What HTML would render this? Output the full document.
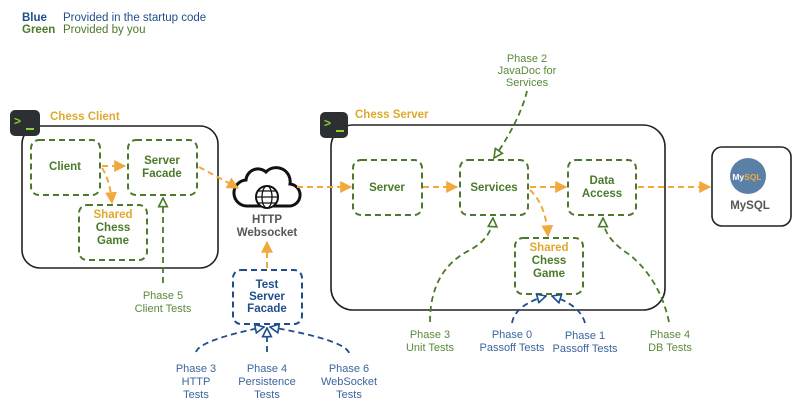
<!DOCTYPE html>
<html><head><meta charset="utf-8"><style>body{margin:0;background:#fff}svg{display:block}text{font-family:"Liberation Sans",sans-serif}</style></head><body>
<svg width="800" height="411" viewBox="0 0 800 411" xmlns="http://www.w3.org/2000/svg">
<defs>
<marker id="ao" viewBox="0 0 10 10" refX="9" refY="5" markerWidth="6" markerHeight="6" orient="auto"><path d="M0,0L10,5L0,10z" fill="#f2a93b"/></marker>
<marker id="ag" viewBox="0 0 10 10" refX="9" refY="5" markerWidth="6" markerHeight="6" orient="auto"><path d="M1,1L9,5L1,9z" fill="#fff" stroke="#4a7a2a" stroke-width="1.5"/></marker>
<marker id="ab" viewBox="0 0 10 10" refX="9" refY="5" markerWidth="6" markerHeight="6" orient="auto"><path d="M1,1L9,5L1,9z" fill="#fff" stroke="#1f4e8c" stroke-width="1.5"/></marker>
</defs>
<g font-size="11.5">
<text x="22" y="21" font-weight="bold" fill="#1f4e8c">Blue</text><text x="63" y="21" fill="#1f4e8c">Provided in the startup code</text>
<text x="22" y="33" font-weight="bold" fill="#4a7a2a">Green</text><text x="63" y="33" fill="#4a7a2a">Provided by you</text>
</g>
<rect x="22" y="126" width="196" height="142" rx="18" fill="none" stroke="#222" stroke-width="1.6"/>
<rect x="331" y="125" width="334" height="185" rx="22" fill="none" stroke="#222" stroke-width="1.6"/>
<rect x="712" y="147" width="79" height="79" rx="10" fill="none" stroke="#222" stroke-width="1.6"/>
<g><rect x="10" y="110" width="30" height="26" rx="5" fill="#2d3033"/><text x="14" y="125" font-size="12" font-weight="bold" fill="#8fd12e">&gt;</text><rect x="26" y="128" width="8" height="2" fill="#8fd12e"/></g>
<g><rect x="320" y="112" width="28" height="26" rx="5" fill="#2d3033"/><text x="324" y="127" font-size="12" font-weight="bold" fill="#8fd12e">&gt;</text><rect x="336" y="130" width="8" height="2" fill="#8fd12e"/></g>
<text x="50" y="120" font-size="11.5" font-weight="bold" fill="#e0a82e">Chess Client</text>
<text x="355" y="118" font-size="11.5" font-weight="bold" fill="#e0a82e">Chess Server</text>
<g fill="none" stroke="#4a7a2a" stroke-width="2" stroke-dasharray="6,4">
<rect x="31" y="140" width="69" height="55" rx="8"/>
<rect x="128" y="140" width="69" height="55" rx="8"/>
<rect x="79" y="205" width="68" height="55" rx="8"/>
<rect x="353" y="160" width="69" height="55" rx="8"/>
<rect x="460" y="160" width="68" height="55" rx="8"/>
<rect x="568" y="160" width="68" height="55" rx="8"/>
<rect x="515" y="238" width="68" height="56" rx="8"/>
</g>
<rect x="233" y="270" width="69" height="54" rx="8" fill="none" stroke="#1f4e8c" stroke-width="2" stroke-dasharray="6,4"/>
<g font-size="11.5" font-weight="bold" fill="#4a7a2a" text-anchor="middle">
<text x="65" y="170">Client</text>
<text x="162" y="164">Server</text><text x="162" y="177">Facade</text>
<text x="113" y="218" fill="#e0a82e">Shared</text><text x="113" y="231">Chess</text><text x="113" y="244">Game</text>
<text x="387" y="191">Server</text>
<text x="494" y="191">Services</text>
<text x="602" y="184">Data</text><text x="602" y="197">Access</text>
<text x="549" y="251" fill="#e0a82e">Shared</text><text x="549" y="264">Chess</text><text x="549" y="277">Game</text>
<text x="267" y="288" fill="#1f4e8c">Test</text><text x="267" y="300" fill="#1f4e8c">Server</text><text x="267" y="312" fill="#1f4e8c">Facade</text>
<text x="267" y="223" fill="#555">HTTP</text><text x="267" y="236" fill="#555">Websocket</text>
<text x="750" y="209" fill="#555">MySQL</text>
</g>
<path d="M248,206 h40 a11,11 0 0 0 2,-22 a14,14 0 0 0 -24,-12 a12,12 0 0 0 -20,8 a13,13 0 0 0 2,26z" fill="#fff" stroke="#111" stroke-width="3"/>
<circle cx="267" cy="197" r="11" fill="#fff" stroke="#111" stroke-width="2"/>
<g stroke="#111" stroke-width="1.3" fill="none"><ellipse cx="267" cy="197" rx="5" ry="11"/><line x1="256" y1="197" x2="278" y2="197"/><line x1="258" y1="191" x2="276" y2="191"/><line x1="258" y1="203" x2="276" y2="203"/></g>
<circle cx="748" cy="176" r="18" fill="#5b80a8"/><text x="747" y="180" font-size="8.5" font-weight="bold" fill="#fff" text-anchor="middle">My<tspan fill="#f2a93b">SQL</tspan></text>
<g fill="none" stroke="#f2a93b" stroke-width="2" stroke-dasharray="6,4" marker-end="url(#ao)">
<path d="M102,166 L125,166"/>
<path d="M102,168 Q110,180 112,203"/>
<path d="M199,167 L238,188"/>
<path d="M297,187 L351,187"/>
<path d="M423,187 L457,187"/>
<path d="M530,187 L566,187"/>
<path d="M638,187 L710,187"/>
<path d="M530,190 Q546,205 548,236"/>
<path d="M267,268 L267,242"/>
</g>
<g fill="none" stroke="#4a7a2a" stroke-width="1.8" stroke-dasharray="6,4" marker-end="url(#ag)">
<path d="M163,283 L163,198"/>
<path d="M527,91 Q520,120 494,158"/>
<path d="M430,322 Q430,270 470,250 Q492,238 493,218"/>
<path d="M669,322 Q660,280 630,255 Q603,238 603,218"/>
</g>
<g fill="none" stroke="#1f4e8c" stroke-width="1.8" stroke-dasharray="6,4" marker-end="url(#ab)">
<path d="M196,352 Q200,340 264,327"/>
<path d="M267,352 L267,328"/>
<path d="M349,353 Q345,340 270,327"/>
<path d="M512,323 Q515,305 546,296"/>
<path d="M585,323 Q580,305 552,296"/>
</g>
<g font-size="11" text-anchor="middle">
<g fill="#5a8a3a">
<text x="527" y="62">Phase 2</text><text x="527" y="74">JavaDoc for</text><text x="527" y="86">Services</text>
<text x="163" y="299">Phase 5</text><text x="163" y="312">Client Tests</text>
<text x="430" y="338">Phase 3</text><text x="430" y="351">Unit Tests</text>
<text x="670" y="338">Phase 4</text><text x="670" y="351">DB Tests</text>
</g>
<g fill="#3b659e">
<text x="512" y="338">Phase 0</text><text x="512" y="351">Passoff Tests</text>
<text x="585" y="339">Phase 1</text><text x="585" y="352">Passoff Tests</text>
<text x="196" y="372">Phase 3</text><text x="196" y="385">HTTP</text><text x="196" y="398">Tests</text>
<text x="267" y="372">Phase 4</text><text x="267" y="385">Persistence</text><text x="267" y="398">Tests</text>
<text x="349" y="372">Phase 6</text><text x="349" y="385">WebSocket</text><text x="349" y="398">Tests</text>
</g>
</g>
</svg>
</body></html>
